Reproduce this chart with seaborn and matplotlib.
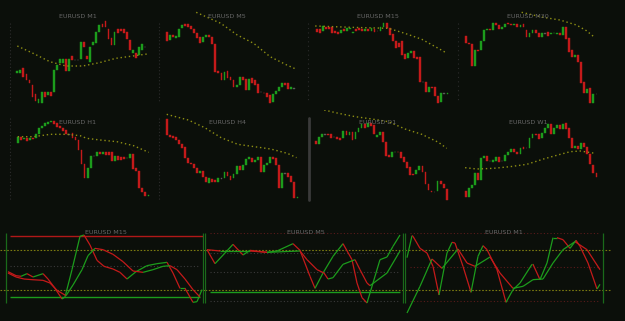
import numpy as np
import pandas as pd
import matplotlib
matplotlib.use("Agg")
import matplotlib.pyplot as plt
from matplotlib.collections import LineCollection
from matplotlib.lines import Line2D
import seaborn as sns

# ---------------- DATA ----------------
# candles: (open, close) per bar, price in chart units
m1_oc = [(110,118),(110,120),(125,100),(108,90),(90,80),(75,40),(47,28),(20,32),(20,55),(55,40),(45,55),(55,42),
         (55,120),(120,135),(140,152),(142,152),(152,118),(118,152),(162,150),(150,149),(150,149),(152,205),(205,188),
         (162,152),(145,188),(195,205),(200,233),(235,255),(258,250),(268,250),(242,212),(215,195),(195,235),(242,232),
         (242,238),(242,230),(235,212),(210,180),(170,180),(170,155),(165,188),(180,197),(189,190)]
m5_oc = [(235,208),(210,225),(225,218),(215,222),(220,242),(245,255),(258,252),(258,250),(252,242),(242,230),(230,215),
         (218,202),(205,220),(218,225),(225,220),(218,198),(198,115),(118,110),(110,90),(90,115),(118,95),(100,90),(90,68),
         (68,75),(75,98),(100,90),(92,60),(60,92),(95,82),(90,75),(78,52),(55,54),(52,50),(50,38),(45,22),(25,48),(48,58),
         (58,68),(68,80),(80,75),(80,62),(62,68),(65,64)]
m15_oc = [(242,235),(242,230),(238,252),(250,242),(248,242),(248,232),(238,232),(235,228),(230,240),(242,238),(238,245),
          (242,245),(232,235),(242,238),(245,240),(242,238),(238,242),(242,238),(238,245),(242,235),(238,237),(238,248),
          (248,260),(260,245),(245,225),(228,208),(208,185),(200,188),(208,165),(168,152),(155,172),(172,178),(178,155),
          (158,152),(158,85),(85,84),(85,55),(55,68),(68,65),(68,42),(42,22),(25,50),(50,49),(48,52)]
m30_oc = [(222,202),(200,198),(198,132),(132,180),(180,178),(180,208),(208,240),(240,242),(242,240),(240,262),(262,255),
          (255,242),(242,250),(250,258),(260,258),(258,255),(255,258),(258,248),(248,255),(258,250),(240,218),(220,232),
          (232,240),(240,232),(232,220),(220,230),(230,229),(235,222),(228,232),(230,232),(228,232),(232,225),(225,248),
          (248,212),(215,175),(180,158),(158,165),(165,145),(145,82),(85,50),(50,62),(65,22),(20,48),(48,47)]
h1_oc = [(215,235),(235,225),(228,230),(232,222),(225,230),(232,228),(230,242),(242,260),(260,268),(268,275),(272,278),
         (278,282),(282,274),(275,265),(268,260),(262,252),(255,242),(242,241),(245,232),(235,225),(225,195),(195,152),
         (152,112),(112,142),(140,178),(178,177),(178,188),(188,182),(182,190),(190,180),(190,180),(188,162),(162,178),
         (178,165),(175,165),(175,168),(170,172),(172,182),(182,138),(142,132),(132,80),(82,68),(70,58),(58,60)]
h4_oc = [(288,240),(240,235),(238,230),(235,225),(225,212),(212,202),(205,172),(172,155),(155,152),(152,140),(140,125),
         (125,132),(132,115),(115,98),(95,112),(108,98),(105,98),(100,110),(110,109),(112,130),(130,118),(118,105),
         (110,122),(122,148),(148,135),(135,150),(150,168),(168,175),(172,160),(160,165),(165,175),(175,130),(130,150),
         (150,155),(155,175),(175,168),(170,150),(150,80),(80,125),(125,124),(125,115),(118,98),(98,52),(52,55)]
d1_oc = [(222,212),(212,235),(235,242),(242,241),(242,240),(242,232),(235,234),(235,228),(232,225),(230,252),(252,240),
         (240,248),(248,225),(228,250),(250,262),(262,272),(272,262),(265,275),(275,268),(270,242),(235,240),(240,248),
         (248,220),(220,178),(180,175),(175,188),(188,190),(190,188),(190,172),(175,160),(160,142),(145,120),(122,120),
         (122,135),(135,148),(148,128),(130,92),(92,75),(72,68),(70,69),(72,102),(102,92),(92,80),(78,45)]
w1_oc = [(72,55),(55,80),(80,90),(90,125),(125,105),(105,170),(170,178),(178,162),(162,161),(160,165),(162,175),
         (175,160),(162,161),(162,180),(180,188),(188,198),(198,188),(188,182),(182,202),(205,198),(202,201),(200,230),
         (230,242),(242,240),(242,228),(230,245),(245,262),(262,272),(272,242),(242,262),(262,270),(270,258),(258,272),
         (275,258),(260,232),(232,200),(200,208),(208,198),(198,215),(215,205),(205,182),(182,152),(150,125),(125,115)]

# moving averages: (bar index, value)
m1_ma_x = [0, 5.2, 10.7, 16, 21.5, 27, 32.4, 38, 42.7]
m1_ma_v = [192, 170, 145, 132, 132, 142, 155, 162, 168]
m5_ma_x = [9.7, 17.8, 23.2, 28.6, 34, 39.5, 42.7]
m5_ma_v = [293, 260, 225, 200, 160, 135, 122]
m15_ma_x = [-0.5, 11.5, 23.6, 29, 34.6, 40, 42.9]
m15_ma_v = [252, 248, 245, 230, 212, 185, 170]
m30_ma_x = [18.4, 25.5, 31, 36.4, 39.7, 42.4]
m30_ma_v = [293, 278, 270, 255, 238, 218]
h1_ma_x = [0, 5.2, 10.7, 16.2, 20.5, 22.7, 27.1, 32.6, 38.1, 43.1]
h1_ma_v = [235, 235, 242, 242, 238, 230, 225, 220, 208, 188]
h4_ma_x = [0, 7.1, 12.5, 17.9, 23.4, 28.8, 34.2, 39.7, 42.7]
h4_ma_v = [302, 285, 262, 232, 212, 205, 198, 185, 172]
d1_ma_x = [2.7, 7.4, 12.9, 18.4, 23.8, 29.3, 34.8, 40.3, 43]
d1_ma_v = [315, 305, 295, 288, 280, 258, 242, 218, 200]
w1_ma_x = [-0.2, 3.6, 9.1, 14.6, 20.1, 25.6, 31.1, 34.4, 37.7, 42.6]
w1_ma_v = [142, 138, 140, 145, 152, 168, 182, 190, 192, 185]

# oscillators (bar, value)
osc15_a_t = [8,16,21,27,33,43,48,55,62,65,72,80,84,90,97,104,113,120,127,136,147,157,167,173,180,185,193,197,202]
osc15_a_v = [47,41,40,44,39,44,36,22,6,9,50,100,102,87,64,55,51,46,36,47,56,59,61,45,22,22,1,2,20]
osc15_b_t = [8,16,24,32,43,50,57,66,73,82,88,95,103,113,123,133,143,153,163,170,177,185,193,200]
osc15_b_v = [45,39,36,35,34,30,19,11,27,50,71,82,80,73,62,48,46,50,55,56,50,36,20,9]
osc5_a_t = [7,15,25,33,43,50,67,77,93,100,110,115,123,133,143,152,157,162,167,173,180,187,193,200]
osc5_a_v = [80,59,75,88,72,79,76,78,89,79,40,22,45,70,89,65,30,8,0,30,65,69,85,102]
osc5_b_t = [7,20,33,50,67,83,100,107,117,124,128,133,143,155,160,167,170,187,200]
osc5_b_v = [80,78,78,78,76,77,78,65,50,45,36,38,58,65,50,30,26,45,78]
osc1_a_t = [7,12,13,20,27,33,39,47,52,55,63,71,78,83,87,97,106,113,120,132,133,140,147,153,157,163,170,176,180,188,197,200]
osc1_a_v = [68,101,100,82,75,55,12,75,91,90,55,16,70,86,80,50,1,20,30,58,58,35,60,98,98,95,82,94,85,60,21,28]
osc1_b_t = [7,20,32,42,58,67,75,90,100,113,123,133,143,153,163,175,187,200]
osc1_b_v = [-15,25,66,52,81,60,55,69,45,22,25,35,36,60,80,92,80,50]

candle_titles = ["EURUSD M1", "EURUSD M5", "EURUSD M15", "EURUSD M30",
                 "EURUSD H1", "EURUSD H4", "EURUSD D1", "EURUSD W1"]
osc_titles = ["EURUSD M15", "EURUSD M5", "EURUSD M1"]

# ---------------- STYLE ----------------
BG = "#0b0f0a"
RED = "#c41a1a"
GREEN = "#1c9c1c"
DOJI = "#5a5a5a"
MA_COL = "#8f8f14"
TITLE_COL = "#666666"
sns.set_theme(style="dark", rc={"axes.facecolor": BG, "figure.facecolor": BG,
                                "axes.edgecolor": BG, "savefig.facecolor": BG})
plt.rcParams["font.family"] = ["DejaVu Sans"]

W, H = 625, 321
fig = plt.figure(figsize=(6.25, 3.21), dpi=100)


def px_axes(x0, y0, x1, y1):
    ax = fig.add_axes([x0 / W, 1 - y1 / H, (x1 - x0) / W, (y1 - y0) / H])
    ax.set_facecolor(BG)
    for s in ax.spines.values():
        s.set_visible(False)
    ax.set_xticks([])
    ax.set_yticks([])
    ax.patch.set_alpha(0)
    return ax


def fig_line(x0, y0, x1, y1, **kw):
    fig.add_artist(Line2D([x0 / W, x1 / W], [1 - y0 / H, 1 - y1 / H], **kw))


# decorative axis scales
for y0, y1 in [(23, 103), (118, 200)]:
    fig_line(10, y0, 10, y1, color="#2c2c2c", lw=0.8, ls=(0, (1, 2)))
    fig_line(159, y0, 159, y1, color="#2c2c2c", lw=0.8, ls=(0, (1, 2)))
fig_line(308, 23, 308, 103, color="#2c2c2c", lw=0.8, ls=(0, (1, 3)))
fig_line(458, 23, 458, 103, color="#2c2c2c", lw=0.8, ls=(0, (1, 3)))
fig_line(309, 118, 309, 200, color="#3a3a3a", lw=2.0)

candles = [m1_oc, m5_oc, m15_oc, m30_oc, h1_oc, h4_oc, d1_oc, w1_oc]
mas = [(m1_ma_x, m1_ma_v), (m5_ma_x, m5_ma_v), (m15_ma_x, m15_ma_v), (m30_ma_x, m30_ma_v),
       (h1_ma_x, h1_ma_v), (h4_ma_x, h4_ma_v), (d1_ma_x, d1_ma_v), (w1_ma_x, w1_ma_v)]
cols = [(5, 155), (155, 305), (305, 460), (460, 620)]
title_cx = [78, 227, 378, 528]
x0s = [[17.3, 166.7, 316.7, 465.7], [17.7, 166.7, 316.0, 465.7]]
DX = 3.04
row_off = [0, 105]

for k in range(8):
    r, c = divmod(k, 4)
    l, rr = cols[c]
    ax = px_axes(l, 5 + row_off[r], rr, 105 + row_off[r])
    ax.set_ylim(15, 315)
    x0 = x0s[r][c]
    ax.set_xlim((l - x0) / DX, (rr - x0) / DX)
    oc = np.array(candles[k], dtype=float)
    o, cl = oc[:, 0], oc[:, 1]
    idx = np.arange(len(oc))
    colors = [DOJI if abs(b - a) <= 1 else (GREEN if b > a else RED) for a, b in zip(o, cl)]
    ax.bar(idx, cl - o, bottom=o, width=0.58, color=colors, edgecolor=colors, linewidth=0.3)
    mx, mv = mas[k]
    df = pd.DataFrame({"x": mx, "v": mv})
    sns.lineplot(data=df, x="x", y="v", ax=ax, color=MA_COL, lw=1.0, linestyle=(0, (1, 2)))
    ax.set_xlabel("")
    ax.set_ylabel("")
    fig.text(title_cx[c] / W, 1 - (17 + row_off[r]) / H, candle_titles[k], ha="center", va="center",
             fontsize=4.6, color=TITLE_COL)

# ---------------- oscillators ----------------
oscs = [((osc15_a_t, osc15_a_v), (osc15_b_t, osc15_b_v)),
        ((osc5_a_t, osc5_a_v), (osc5_b_t, osc5_b_v)),
        ((osc1_a_t, osc1_a_v), (osc1_b_t, osc1_b_v))]
osc_px = [(0, 205, 0), (205, 405, 200), (405, 612, 400)]
osc_title_cx = [106, 306, 504]
levels = [
    [("solid", "#b01818", 101, 10, 203), ("solid", "#1c9c1c", 9.5, 10, 200), ("dot", "#3a3a3a", 55, 10, 200)],
    [("dot", "#5a1a1a", 105, 10, 200), ("dot", "#3a3a3a", 75, 10, 200), ("dot", "#3a3a3a", 46, 10, 200),
     ("dot", "#3a3a3a", 3.5, 10, 200), ("solid", "#1c9c1c", 16, 10, 200)],
    [("dot", "#5a1a1a", 105, 10, 200), ("dot", "#5a1a1a", 54, 10, 200), ("dot", "#5a1a1a", 3.5, 10, 200)],
]
for i, (lines, (pl, pr, sh)) in enumerate(zip(oscs, osc_px)):
    ax = px_axes(pl, 233, pr, 321)
    ax.set_ylim(-27, 105)
    ax.set_xlim(pl - sh, pr - sh)
    for lv in (80, 20):
        ax.axhline(lv, color="#7a7a10", lw=0.8, ls=(0, (1.5, 1.5)))
    for kind, col, lv, a, b in levels[i]:
        ls = "-" if kind == "solid" else (0, (1, 2))
        ax.hlines(lv, a, b, color=col, lw=1.0 if kind == "solid" else 0.8, linestyles=ls)
    vx = [6.3, 203] if i == 0 else [5, 203]
    ax.vlines(vx, 0, 105, color="#1a6a1a", lw=0.9)
    for t, v in lines:
        pts = np.column_stack([t, v]).astype(float)
        segs = np.stack([pts[:-1], pts[1:]], axis=1)
        cs = [GREEN if b >= a else RED for a, b in zip(pts[:-1, 1], pts[1:, 1])]
        ax.add_collection(LineCollection(segs, colors=cs, linewidths=0.9))
    fig.text(osc_title_cx[i] / W, 1 - 232 / H, osc_titles[i], ha="center", va="center",
             fontsize=4.6, color=TITLE_COL)

fig.savefig("out.png", dpi=100, facecolor=BG)
